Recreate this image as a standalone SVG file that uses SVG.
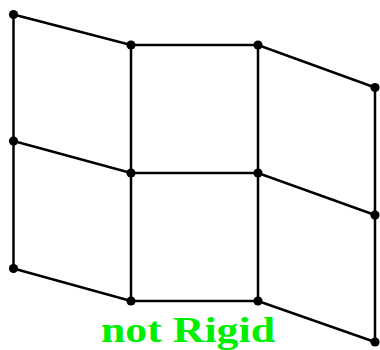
<svg xmlns="http://www.w3.org/2000/svg" width="380" height="350" viewBox="0 0 380 350">
<style>
.e{stroke:#000;stroke-width:2.5;fill:none;stroke-linecap:round}
.n{fill:#000}
.t{font-family:"Liberation Serif",serif;font-weight:bold;font-size:35px;fill:#00ee00}
</style>
<rect width="380" height="350" fill="#fff"/>
<g id="connectors" class="e">
<path d="M13.5,14.5 L131,45 L258,45 L375,87.5"/>
<path d="M13.5,141 L131,173 L258,173 L375,215"/>
<path d="M13.5,268.5 L131,301 L258,301 L375,342"/>
<path d="M13.5,14.5 L13.5,268.5"/>
<path d="M131,45 L131,301"/>
<path d="M258,45 L258,301"/>
<path d="M375,87.5 L375,342"/>
</g>
<g id="n1"><circle class="n" cx="13.5" cy="14.5" r="4.6"/></g>
<g id="n2"><circle class="n" cx="13.5" cy="141" r="4.6"/></g>
<g id="n3"><circle class="n" cx="13.5" cy="268.5" r="4.6"/></g>
<g id="n4"><circle class="n" cx="131" cy="45" r="4.6"/></g>
<g id="n5"><circle class="n" cx="131" cy="173" r="4.6"/></g>
<g id="n6"><circle class="n" cx="131" cy="301" r="4.6"/></g>
<g id="n7"><circle class="n" cx="258" cy="45" r="4.6"/></g>
<g id="n8"><circle class="n" cx="258" cy="173" r="4.6"/></g>
<g id="n9"><circle class="n" cx="258" cy="301" r="4.6"/></g>
<g id="n10"><circle class="n" cx="375" cy="87.5" r="4.6"/></g>
<g id="n11"><circle class="n" cx="375" cy="215" r="4.6"/></g>
<g id="n12"><circle class="n" cx="375" cy="342" r="4.6"/></g>
<g id="label"><text class="t" x="101" y="342" textLength="174" lengthAdjust="spacingAndGlyphs">not Rigid</text></g>
</svg>
